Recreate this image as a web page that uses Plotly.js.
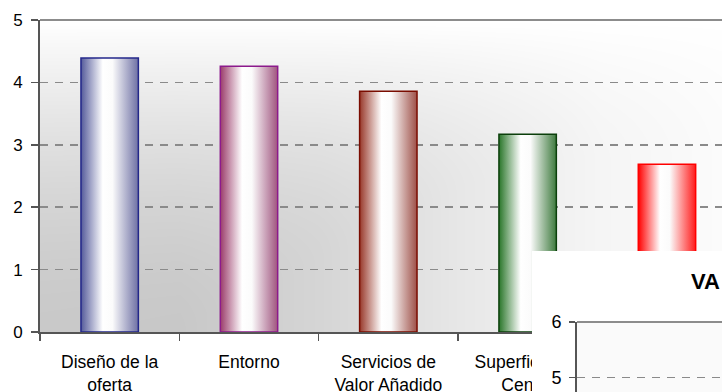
<!DOCTYPE html>
<html><head><meta charset="utf-8">
<script src="https://cdn.plot.ly/plotly-3.0.1.min.js"></script>
<style>
html,body{margin:0;padding:0;width:722px;height:392px;overflow:hidden;background:#fff;}
#main{position:absolute;left:0;top:0;width:722px;height:392px;}
#inset{position:absolute;left:532px;top:251px;width:420px;height:450px;background:#fff;}
</style></head><body>
<div id="main"></div><div id="inset"></div>
<script>
// ---- data ----
const categories = ["Diseño de la<br>oferta", "Entorno", "Servicios de<br>Valor Añadido", "Superficie del<br>Centro", "Accesibilidad"];
const values = [4.39, 4.26, 3.86, 3.17, 2.69];
const yTicks = [0, 1, 2, 3, 4, 5];
const insetTitle = "VA";
const insetTicks = [5, 6];

// ---- styles ----
const barLeft  = ['#545a9a', '#9b3d6b', '#98382a', '#2a762a', '#ff0000'];
const barRight = ['#6e70a4', '#a0557f', '#9e5048', '#3e7a3e', '#ff1a1a'];
const barLine  = ['#23278a', '#8c1a8c', '#7a0c00', '#0b3f0b', '#ff0000'];
const FONT = 'Liberation Sans, Arial, sans-serif';

// background gradient image for the plot area
function bgImage(){
  const W = 682, H = 312;
  const c = document.createElement('canvas'); c.width = W; c.height = H;
  const ctx = c.getContext('2d');
  const img = ctx.createImageData(W, H);
  const dx = [[40,54],[180,55],[320,42],[460,24],[600,10],[722,4]];
  const ye = [[40,332],[180,332],[460,190],[600,160],[722,150]];
  function pl(tab, X){
    if (X <= tab[0][0]) return tab[0][1];
    for (let k=1;k<tab.length;k++){
      if (X <= tab[k][0]){
        const a=tab[k-1], b=tab[k];
        return a[1] + (b[1]-a[1])*(X-a[0])/(b[0]-a[0]);
      }
    }
    return tab[tab.length-1][1];
  }
  for (let x=0;x<W;x++){
    const X = 40 + x;
    const D = pl(dx, X), yend = pl(ye, X);
    for (let y=0;y<H;y++){
      const Y = 20 + y;
      let t = (Y-20)/(yend-20); if (t>1) t=1; if (t<0) t=0;
      const v = 1 - Math.pow(1-t, 1.7);
      const col = Math.round(255 - D*v);
      const i = (y*W + x)*4;
      img.data[i]=col; img.data[i+1]=col; img.data[i+2]=col; img.data[i+3]=255;
    }
  }
  ctx.putImageData(img,0,0);
  return c.toDataURL('image/png');
}

const axisBase = {
  showline: true, linecolor: '#555555', linewidth: 2,
  ticks: 'outside', ticklen: 7, tickcolor: '#555555', tickwidth: 1.5,
  tickfont: {family: FONT, size: 17, color: '#000'}
};

const mainLayout = {
  width: 722, height: 392,
  margin: {l: 40, r: 0, t: 20, b: 60},
  paper_bgcolor: '#ffffff', plot_bgcolor: 'rgba(0,0,0,0)',
  showlegend: false,
  bargap: 0.588,
  xaxis: Object.assign({}, axisBase, {
    type: 'category', range: [-0.5, 4.395], tickson: 'boundaries',
    showgrid: false, zeroline: false, tickangle: 0, fixedrange: true,
    ticklabelstandoff: 13, tickfont: {family: FONT, size: 17.5, color: '#000'}
  }),
  yaxis: Object.assign({}, axisBase, {
    range: [0, 5], tickvals: yTicks, showgrid: true, gridcolor: '#8a8a8a',
    gridwidth: 1.5, griddash: '8px,7px', zeroline: false, fixedrange: true,
    ticklabelstandoff: 5
  }),
  shapes: [{type: 'line', xref: 'paper', yref: 'paper', x0: 0, x1: 1, y0: 1, y1: 1,
            line: {color: '#8c8c8c', width: 2}}],
  images: [{source: bgImage(), xref: 'paper', yref: 'paper', x: 0, y: 1, sizex: 1, sizey: 1,
            xanchor: 'left', yanchor: 'top', sizing: 'stretch', layer: 'below'}]
};

const mainTrace = {
  type: 'bar', x: categories, y: values,
  marker: {color: barLeft, line: {color: barLine, width: 1.5}},
  hoverinfo: 'none'
};

Plotly.newPlot('main', [mainTrace], mainLayout, {staticPlot: true, displayModeBar: false}).then(gd => {
  const ns = 'http://www.w3.org/2000/svg';
  const svg = gd.querySelector('svg.main-svg');
  const defs = document.createElementNS(ns, 'defs');
  svg.insertBefore(defs, svg.firstChild);
  const paths = gd.querySelectorAll('.barlayer .point path');
  paths.forEach((p, i) => {
    const g = document.createElementNS(ns, 'linearGradient');
    g.setAttribute('id', 'barg' + i);
    g.setAttribute('x1', '0'); g.setAttribute('x2', '1');
    g.setAttribute('y1', '0'); g.setAttribute('y2', '0');
    const stops = [[0, barLeft[i]], [0.38, '#ffffff'], [0.55, '#fbfbfb'], [1, barRight[i]]];
    stops.forEach(s => {
      const st = document.createElementNS(ns, 'stop');
      st.setAttribute('offset', s[0]);
      st.setAttribute('stop-color', s[1]);
      g.appendChild(st);
    });
    defs.appendChild(g);
    p.style.fill = 'url(#barg' + i + ')';
  });
});

// ---- overlapping second chart ----
const insetLayout = {
  width: 420, height: 450,
  margin: {l: 45, r: 0, t: 71, b: 46},
  paper_bgcolor: '#ffffff', plot_bgcolor: '#fafafa',
  showlegend: false,
  title: {text: insetTitle, font: {family: FONT, size: 22, color: '#000', weight: 'bold'},
          xref: 'container', x: 159/420, xanchor: 'left',
          yref: 'container', y: 1 - 30/450, yanchor: 'middle'},
  xaxis: {range: [0, 1], showticklabels: false, showgrid: false, zeroline: false,
          showline: true, linecolor: '#555555', linewidth: 2, fixedrange: true},
  yaxis: Object.assign({}, axisBase, {
    range: [0, 6], tickvals: insetTicks, showgrid: true, gridcolor: '#8a8a8a',
    gridwidth: 1.5, griddash: '8px,7px', zeroline: false, fixedrange: true,
    ticklen: 6, ticklabelstandoff: 4, tickfont: {family: FONT, size: 18, color: '#000'}
  }),
  shapes: [{type: 'line', xref: 'paper', yref: 'paper', x0: 0, x1: 1, y0: 1, y1: 1,
            line: {color: '#8c8c8c', width: 2}}]
};
Plotly.newPlot('inset', [], insetLayout, {staticPlot: true, displayModeBar: false});
</script>
</body></html>
